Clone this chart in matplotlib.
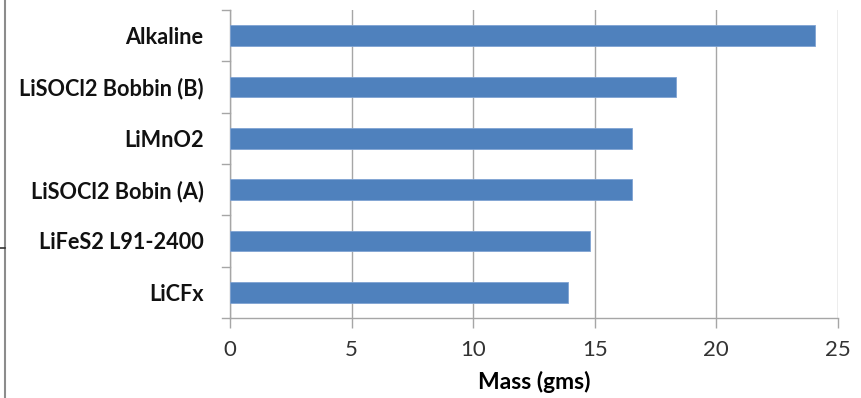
import matplotlib
matplotlib.use("Agg")
import matplotlib.pyplot as plt
from matplotlib.lines import Line2D

categories = ["LiCFx", "LiFeS2 L91-2400", "LiSOCl2 Bobin (A)", "LiMnO2",
              "LiSOCl2 Bobbin (B)", "Alkaline"]
mass = [13.9, 14.8, 16.55, 16.55, 18.35, 24.05]
xticks = [0, 5, 10, 15, 20, 25]

bar_color = "#4F81BD"
grid_color = "#A6A6A6"

fig = plt.figure(figsize=(8.62, 3.98), dpi=100)
ax = fig.add_axes([0.2668, 0.201, 0.7050, 0.7739])

pos = list(range(len(categories)))
ax.barh(pos, mass, height=0.4, color=bar_color, edgecolor="#7FA3D3",
        linewidth=0.6, zorder=3)

ax.set_xlim(0, 25)
ax.set_ylim(-0.5, len(categories) - 0.5)
ax.set_xticks(xticks)
ax.set_xticklabels([str(t) for t in xticks], fontsize=16, color="#333333",
                   family="Lato")
ax.set_yticks(pos)
ax.set_yticklabels(categories, fontsize=15.6, fontweight="bold",
                   family="Lato", color="#111111")
ax.tick_params(axis="y", length=0, pad=19)
ax.tick_params(axis="x", length=7, width=1, color=grid_color, pad=9)

# category boundary ticks on the value axis
for b in [i - 0.5 for i in range(len(categories) + 1)]:
    ax.plot([-0.33, 0], [b, b], color=grid_color, lw=1, clip_on=False,
            zorder=4)

ax.xaxis.grid(True, color=grid_color, lw=1, zorder=0)
for side in ["top", "right"]:
    ax.spines[side].set_visible(False)
for side in ["left", "bottom"]:
    ax.spines[side].set_color(grid_color)
    ax.spines[side].set_linewidth(1)

ax.set_xlabel("Mass (gms)", fontsize=16.5, fontweight="bold", family="Lato",
              labelpad=8)

# frame line at the left edge of the figure
fig.add_artist(Line2D([5.5 / 862, 5.5 / 862], [0, 1], color="#8C8C8C",
                      lw=1.5, transform=fig.transFigure))
fig.add_artist(Line2D([0, 5 / 862], [1 - 248 / 398, 1 - 248 / 398],
                      color="#333333", lw=1.2, transform=fig.transFigure))

fig.savefig("out.png", dpi=100)
